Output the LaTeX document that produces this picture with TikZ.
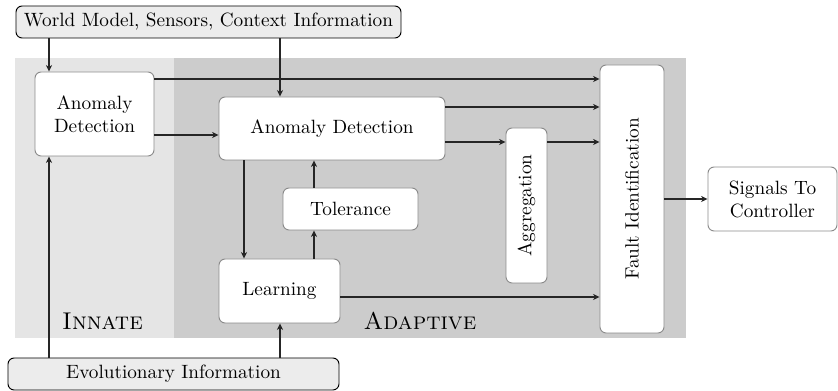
\documentclass[tikz,border=0pt]{standalone}
\usetikzlibrary{arrows.meta}
\definecolor{innatebg}{gray}{0.90}
\definecolor{adaptbg}{gray}{0.80}
\definecolor{infobg}{gray}{0.925}
\definecolor{boxline}{gray}{0.55}
\begin{document}
\begin{tikzpicture}[x=0.52pt,y=-0.52pt,
  sz/.style 2 args={minimum width=#1*0.52pt,minimum height=#2*0.52pt},
  blk/.style={draw=boxline,fill=white,rounded corners=3.2pt,inner sep=0pt,align=center,line width=0.5pt},
  info/.style={draw=black,fill=infobg,rounded corners=3.2pt,inner sep=0pt,align=center,line width=0.5pt},
  arr/.style={-{Stealth[length=3.4pt,width=3.2pt]},line width=0.55pt,draw=black!85},
  lab/.style={font=\fontsize{12.6}{15}\selectfont\scshape}]
\useasboundingbox (0,0) rectangle (838,391);
% background regions
\fill[innatebg] (15,58) rectangle (174,338);
\fill[adaptbg] (174,58) rectangle (686,338);
\node[lab] at (102.5,321) {Innate};
\node[lab] at (420,321) {Adaptive};
% information sources
\node[info,sz={385}{32}] (world) at (208.5,22) {World Model, Sensors, Context Information};
\node[info,sz={331}{32}] (evo) at (173.5,374) {Evolutionary Information};
% processing blocks
\node[blk,sz={119}{84}] (ia) at (94.5,114) {Anomaly\\Detection};
\node[blk,sz={226}{63}] (aa) at (332,128.5) {Anomaly Detection};
\node[blk,sz={135}{42}] (tol) at (350.5,209) {Tolerance};
\node[blk,sz={121}{64}] (learn) at (279.5,291) {Learning};
\node[blk,sz={41}{155}] (agg) at (526.5,205.5) {};
\node[rotate=90] at (agg) {Aggregation};
\node[blk,sz={64}{268}] (fi) at (632,199) {};
\node[rotate=90] at (fi) {Fault Identification};
\node[blk,sz={129}{64}] (sig) at (772.5,199) {Signals To\\Controller};
% connectors
\draw[arr] (world.south -| 49,0) -- (ia.north -| 49,0);
\draw[arr] (world.south -| 280,0) -- (aa.north -| 280,0);
\draw[arr] (ia.east |- 0,79) -- (fi.west |- 0,79);
\draw[arr] (ia.east |- 0,135) -- (aa.west |- 0,135);
\draw[arr] (aa.east |- 0,107) -- (fi.west |- 0,107);
\draw[arr] (aa.east |- 0,142) -- (agg.west |- 0,142);
\draw[arr] (agg.east |- 0,142) -- (fi.west |- 0,142);
\draw[arr] (aa.south -| 244,0) -- (learn.north -| 244,0);
\draw[arr] (learn.north -| 314,0) -- (tol.south -| 314,0);
\draw[arr] (tol.north -| 314,0) -- (aa.south -| 314,0);
\draw[arr] (learn.east |- 0,297) -- (fi.west |- 0,297);
\draw[arr] (fi.east |- 0,199) -- (sig.west |- 0,199);
\draw[arr] (evo.north -| 49,0) -- (ia.south -| 49,0);
\draw[arr] (evo.north -| 280,0) -- (learn.south -| 280,0);
\end{tikzpicture}
\end{document}
